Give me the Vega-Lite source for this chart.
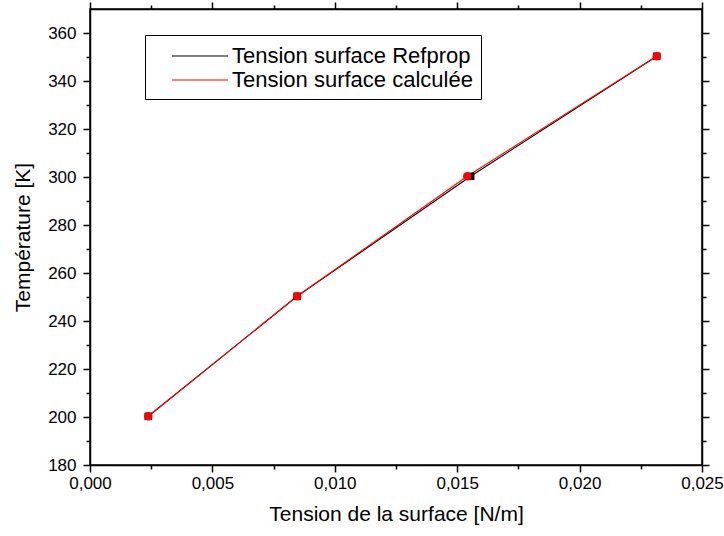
{
  "$schema": "https://vega.github.io/schema/vega-lite/v6.json",
  "width": 612,
  "height": 456,
  "autosize": {"type": "none"},
  "padding": {"left": 90, "top": 9, "right": 22, "bottom": 71},
  "background": "white",
  "config": {
    "view": {"stroke": "black", "strokeWidth": 1.5},
    "font": "Liberation Sans",
    "axis": {"grid": false, "domainColor": "black", "domainWidth": 1.5, "tickColor": "black", "tickWidth": 1.5, "labelColor": "black", "titleColor": "black", "labelFont": "Liberation Sans", "titleFont": "Liberation Sans", "titleFontWeight": "normal", "labelFontSize": 17, "titleFontSize": 21}
  },
  "data": {
    "values": [
      {"serie": "Tension surface Refprop", "tension": 0.00238, "temp": 200.3},
      {"serie": "Tension surface Refprop", "tension": 0.00846, "temp": 250.3},
      {"serie": "Tension surface Refprop", "tension": 0.01555, "temp": 300.3},
      {"serie": "Tension surface Refprop", "tension": 0.02315, "temp": 350.3},
      {"serie": "Tension surface calculée", "tension": 0.00238, "temp": 200.3},
      {"serie": "Tension surface calculée", "tension": 0.00846, "temp": 250.3},
      {"serie": "Tension surface calculée", "tension": 0.01541, "temp": 300.3},
      {"serie": "Tension surface calculée", "tension": 0.02315, "temp": 350.3}
    ]
  },
  "layer": [
    {
      "mark": {"type": "line", "strokeWidth": 1.1},
      "encoding": {
        "x": {"field": "tension", "type": "quantitative", "scale": {"domain": [0, 0.025], "nice": false},
          "title": "Tension de la surface [N/m]",
          "axis": {"orient": "bottom", "values": [0, 0.0025, 0.005, 0.0075, 0.01, 0.0125, 0.015, 0.0175, 0.02, 0.0225, 0.025],
            "labelExpr": "abs(datum.value*200-round(datum.value*200))<1e-6 ? replace(format(datum.value,'.3f'),'.',',') : ''",
            "tickSize": {"condition": {"test": "abs(datum.value*200-round(datum.value*200))<1e-6", "value": 7}, "value": 4},
            "labelPadding": 3, "titlePadding": 12, "labelFlush": false}},
        "y": {"field": "temp", "type": "quantitative", "scale": {"domain": [180, 370], "nice": false, "zero": false},
          "title": "Température [K]",
          "axis": {"orient": "left", "values": [180, 190, 200, 210, 220, 230, 240, 250, 260, 270, 280, 290, 300, 310, 320, 330, 340, 350, 360],
            "labelExpr": "datum.value % 20 == 0 ? datum.value : ''",
            "tickSize": {"condition": {"test": "datum.value % 20 == 0", "value": 7}, "value": 4},
            "labelPadding": 7, "titlePadding": 14}},
        "color": {"field": "serie", "type": "nominal",
          "scale": {"domain": ["Tension surface Refprop", "Tension surface calculée"], "range": ["black", "red"]},
          "legend": {"title": null, "orient": "none", "legendX": 55, "legendY": 26,
            "strokeColor": "black", "fillColor": "white", "padding": 8,
            "labelFontSize": 22, "labelFont": "Liberation Sans", "labelColor": "black", "labelOffset": 53,
            "labelExpr": "datum.label + '\u00a0\u00a0\u00a0'",
            "symbolType": "M0.5,0H5.167",
            "symbolSize": 576, "symbolStrokeWidth": 1.1, "rowPadding": -2,
            "labelLimit": 400}}
      }
    },
    {
      "transform": [{"filter": "datum.serie === 'Tension surface Refprop'"}],
      "mark": {"type": "point", "filled": true, "opacity": 1, "shape": "square", "color": "black", "size": 56},
      "encoding": {
        "x": {"field": "tension", "type": "quantitative", "axis": null},
        "y": {"field": "temp", "type": "quantitative", "axis": null}
      }
    },
    {
      "transform": [{"filter": "datum.serie === 'Tension surface calculée'"}],
      "mark": {"type": "point", "filled": true, "opacity": 1, "shape": "circle", "color": "red", "size": 72},
      "encoding": {
        "x": {"field": "tension", "type": "quantitative", "axis": null},
        "y": {"field": "temp", "type": "quantitative", "axis": null}
      }
    },
    {
      "mark": {"type": "point", "opacity": 0},
      "encoding": {
        "x": {"field": "tension", "type": "quantitative",
          "axis": {"orient": "top", "title": null, "labels": false, "values": [0, 0.0025, 0.005, 0.0075, 0.01, 0.0125, 0.015, 0.0175, 0.02, 0.0225, 0.025],
            "tickSize": {"condition": {"test": "abs(datum.value*200-round(datum.value*200))<1e-6", "value": 7}, "value": 4}}},
        "y": {"field": "temp", "type": "quantitative",
          "axis": {"orient": "right", "title": null, "labels": false, "values": [180, 190, 200, 210, 220, 230, 240, 250, 260, 270, 280, 290, 300, 310, 320, 330, 340, 350, 360],
            "tickSize": {"condition": {"test": "datum.value % 20 == 0", "value": 7}, "value": 4}}}
      }
    }
  ],
  "resolve": {"axis": {"x": "independent", "y": "independent"}}
}
